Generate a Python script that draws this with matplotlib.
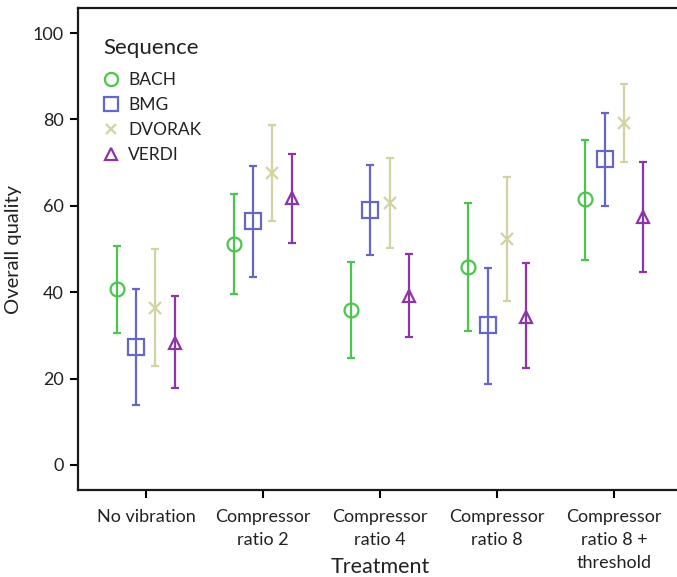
import numpy as np
import matplotlib
matplotlib.use('Agg')
from matplotlib import pyplot as plt
from matplotlib.lines import Line2D

plt.rcParams['font.family'] = ['Lato', 'DejaVu Sans']

treatments = ['No vibration', 'Compressor\nratio 2', 'Compressor\nratio 4',
              'Compressor\nratio 8', 'Compressor\nratio 8 +\nthreshold']
sequences = ['BACH', 'BMG', 'DVORAK', 'VERDI']

# mean, lower and upper end of the interval, per treatment
bach_mean = [40.7, 51.2, 35.9, 45.8, 61.5]
bach_low = [30.5, 39.6, 24.8, 30.9, 47.5]
bach_high = [50.8, 62.8, 47.0, 60.7, 75.2]

bmg_mean = [27.3, 56.4, 59.0, 32.3, 70.8]
bmg_low = [13.9, 43.5, 48.6, 18.8, 60.0]
bmg_high = [40.7, 69.3, 69.4, 45.6, 81.6]

dvorak_mean = [36.3, 67.7, 60.7, 52.3, 79.1]
dvorak_low = [22.8, 56.6, 50.3, 38.0, 70.1]
dvorak_high = [50.0, 78.7, 71.0, 66.7, 88.2]

verdi_mean = [28.2, 61.7, 39.2, 34.3, 57.5]
verdi_low = [17.7, 51.3, 29.7, 22.5, 44.6]
verdi_high = [39.1, 72.0, 48.8, 46.7, 70.2]

means = [bach_mean, bmg_mean, dvorak_mean, verdi_mean]
lows = [bach_low, bmg_low, dvorak_low, verdi_low]
highs = [bach_high, bmg_high, dvorak_high, verdi_high]

colors = ['#4cc54c', '#6666c4', '#d2d2a2', '#8c34aa']
markers = ['o', 's', 'x', '^']
msizes = [10, 11, 8, 9]
txt = '#222222'

fig = plt.figure(figsize=(6.77, 5.77), dpi=100)
ax = fig.add_axes([0.1152, 0.1516, 0.8922, 0.8337])

x = np.arange(len(treatments))
offsets = (np.arange(4) - 1.5) * 0.163

handles = []
for i, name in enumerate(sequences):
    m = np.array(means[i])
    lo = m - np.array(lows[i])
    hi = np.array(highs[i]) - m
    ax.errorbar(x + offsets[i], m, yerr=[lo, hi], fmt=markers[i], color=colors[i],
                mfc='none', mec=colors[i], ms=msizes[i], mew=1.6,
                elinewidth=1.6, capsize=3, capthick=1.6)
    handles.append(Line2D([], [], ls='none', marker=markers[i], mfc='none',
                          mec=colors[i], ms=msizes[i] - 0.5, mew=1.6, label=name))

ax.set_xlim(-0.58, 4.58)
ax.set_ylim(-5.7, 105.7)
ax.set_xticks(x)
ax.set_xticklabels(treatments, fontsize=13, color=txt, linespacing=1.55)
ax.set_yticks([0, 20, 40, 60, 80, 100])
ax.tick_params(axis='y', labelsize=13, labelcolor=txt, length=6, width=1.5, pad=4)
ax.tick_params(axis='x', length=6, width=1.5, pad=8)
for s in ax.spines.values():
    s.set_linewidth(1.6)
    s.set_color('#1a1a1a')

ax.set_ylabel('Overall quality', fontsize=14.5, color=txt, labelpad=8)
ax.set_xlabel('Treatment', fontsize=15.5, color=txt)
ax.xaxis.set_label_coords(0.5, -0.141)

# legend title drawn on its own so the gap to the entries can be set
ax.text(0.0414, 0.918, 'Sequence', transform=ax.transAxes, fontsize=16,
        color=txt, ha='left', va='center')
leg = ax.legend(handles=handles, loc='upper left',
                bbox_to_anchor=(0.040, 0.868), borderaxespad=0, borderpad=0,
                frameon=False, fontsize=12.5,
                handlelength=1.0, handletextpad=0.5, labelspacing=0.52)
for t in leg.get_texts():
    t.set_color(txt)

plt.savefig('out.png', dpi=100)
